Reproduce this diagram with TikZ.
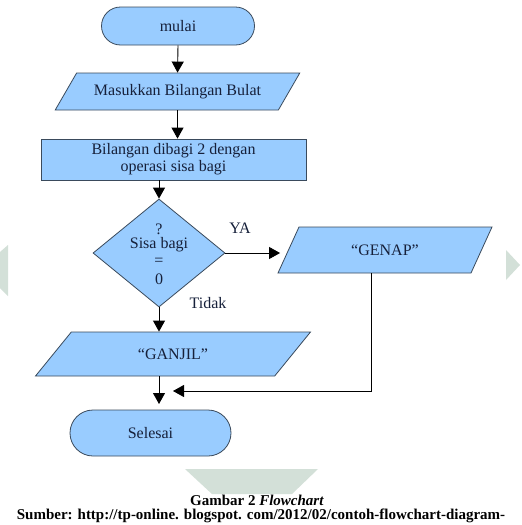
\documentclass[tikz,border=0pt]{standalone}
\usepackage{fontspec}
\setmainfont{Liberation Serif}
\usetikzlibrary{shapes.geometric,shapes.misc,arrows.meta}
\definecolor{boxfill}{HTML}{99CCFF}
\definecolor{boxline}{HTML}{3A4A5C}
\definecolor{boxtext}{HTML}{16203A}
\definecolor{wm}{HTML}{D3E0D8}
\begin{document}
\begin{tikzpicture}[x=1pt,y=-1pt,
  base/.style={draw=boxline, fill=boxfill, line width=0.8pt, text=boxtext,
    font=\fontsize{16}{17}\selectfont, inner sep=0pt, align=center},
  term/.style={base, rounded rectangle},
  io/.style={base, trapezium, trapezium stretches=true},
  proc/.style={base, rectangle},
  dec/.style={base, diamond},
  conn/.style={line width=0.9pt, draw=black, -{Triangle[width=12pt,length=11pt]}},
  line/.style={line width=0.9pt, draw=black},
  lbl/.style={text=boxtext, font=\fontsize{16}{17}\selectfont, inner sep=0pt},
  captext/.style={text=black, font=\bfseries\fontsize{15}{16}\selectfont, inner sep=0pt}]
\useasboundingbox (0,0) rectangle (522,525);
\fill[white] (0,0) rectangle (522,525);
% watermark shapes
\fill[wm] (0,252) -- (8,245) -- (8,296) -- (0,288) -- cycle;
\fill[wm] (506,250) -- (520,265) -- (506,280) -- cycle;
\fill[wm] (185,469) -- (318,469) -- (292,494) -- (212,494) -- cycle;
% nodes
\node[term, minimum width=153, minimum height=38] (start) at (178,26) {mulai};
\node[io, trapezium left angle=39.4, trapezium right angle=140.6,
  minimum width=245, minimum height=37] (input) at (177.5,91.5) {Masukkan Bilangan Bulat};
\node[proc, minimum width=265, minimum height=41] (proc) at (173.5,159.5)
  {Bilangan dibagi 2 dengan\\operasi sisa bagi};
\node[dec, minimum width=132, minimum height=108] (dec) at (159,253) {};
\node[lbl] (dq) at (159,229) {?};
\node[lbl] (ds) at (159,245) {Sisa bagi};
\node[lbl] (de) at (159,262) {=};
\node[lbl] (dz) at (159,279) {0};
\node[io, trapezium left angle=52.7, trapezium right angle=127.3,
  minimum width=214, minimum height=46] (genap) at (385,250) {``GENAP''};
\node[io, trapezium left angle=41.2, trapezium right angle=138.8,
  minimum width=276, minimum height=44] (ganjil) at (173,354) {``GANJIL''};
\node[term, minimum width=161, minimum height=46] (end) at (150.5,433) {Selesai};
\node[lbl] (ya) at (240,228) {YA};
\node[lbl] (tidak) at (208,303) {Tidak};
\coordinate (merge) at (159,404);
\coordinate (join) at (173,391);
% connectors
\draw[conn] (start.south) -- (input.north);
\draw[conn] (input.south) -- (input.south |- proc.north);
\draw[conn] (proc.south -| dec.north) -- (dec.north);
\draw[conn] (dec.east) -- ([xshift=-8pt]dec.east -| genap.west);
\draw[conn] (dec.south) -- (dec.south |- ganjil.north);
\draw[conn] (ganjil.south -| dec.south) -- (merge);
\draw[line] ([xshift=-14pt]genap.south) |- ([xshift=12pt]join);
\draw[conn] ([xshift=12pt]join) -- (join);
% caption
\node[captext] (cap1) at (257,500) {Gambar 2 \textit{Flowchart}};
\node[captext] (cap2) at (261,516) {Sumber: http://tp-online. blogspot. com/2012/02/contoh-flowchart-diagram-};
\end{tikzpicture}
\end{document}
